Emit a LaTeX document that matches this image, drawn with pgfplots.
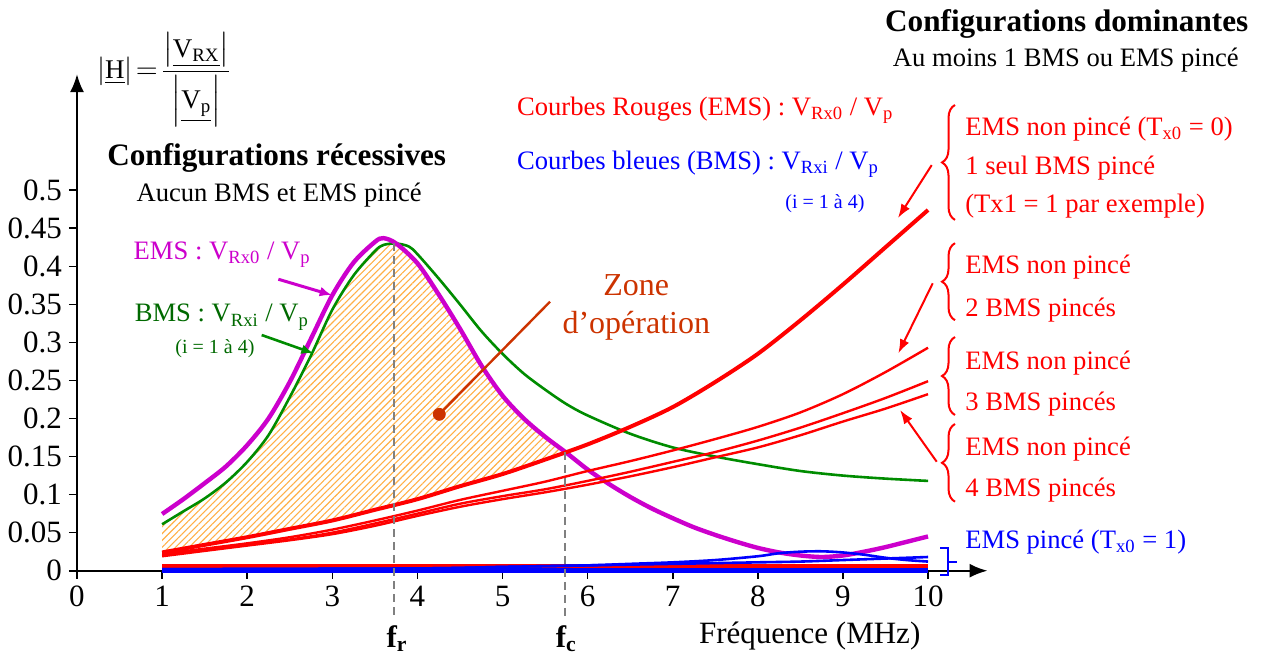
\documentclass[border=0pt]{standalone}
\usepackage{amsmath}
\usepackage{pgfplots}
\pgfplotsset{compat=1.18}
\usepackage{fontspec}
\setmainfont{Liberation Serif}
\usetikzlibrary{arrows.meta,patterns.meta,decorations.pathreplacing}
\definecolor{mag}{RGB}{204,0,204}
\definecolor{grn}{RGB}{0,140,0}
\definecolor{grntxt}{RGB}{0,105,0}
\definecolor{zone}{RGB}{204,51,0}
\definecolor{hatch}{RGB}{255,175,70}
\newcommand\tn{\fontsize{13.3}{16}\selectfont}
\newcommand\tb{\fontsize{15.6}{18}\selectfont\bfseries}
\newcommand\ts{\fontsize{10}{12}\selectfont}
\newcommand\sub[1]{\textsubscript{#1}}
\begin{document}
\begin{tikzpicture}
\begin{axis}[
  scale only axis, width=455.3pt, height=248.35pt,
  xmin=0, xmax=10.7, ymin=0, ymax=0.6527,
  axis lines=left,
  axis line style={line width=1.2pt, -{Latex[length=9pt,width=7pt]}},
  xtick={0,1,2,3,4,5,6,7,8,9,10},
  xticklabels={0,1,2,3,4,5,6,7,8,9,10},
  ytick={0,0.05,0.1,0.15,0.2,0.25,0.3,0.35,0.4,0.45,0.5},
  yticklabels={0,0.05,0.1,0.15,0.2,0.25,0.3,0.35,0.4,0.45,0.5},
  tick align=outside, major tick length=4pt,
  tick style={line width=0.8pt, black},
  tick label style={font=\fontsize{15.5}{18}\selectfont},
  clip=false,
]
% operating zone (hatched)
\addplot[draw=none, pattern={Lines[angle=45,distance=2.4pt,line width=0.55pt]}, pattern color=hatch] coordinates {
(1,0.061) (1.25,0.078) (1.5,0.095) (1.75,0.116) (2,0.142) (2.25,0.177) (2.5,0.227) (2.75,0.283) (3,0.342) (3.25,0.388) (3.5,0.420) (3.6,0.428) (3.72,0.430)
(3.75,0.430) (4,0.404) (4.25,0.363) (4.5,0.318) (4.75,0.270) (5,0.230) (5.25,0.200) (5.5,0.176) (5.74,0.156)
(5.5,0.146) (5,0.127) (4.5,0.111) (4,0.094) (3.5,0.080) (3,0.066) (2.5,0.055) (2,0.044) (1.5,0.034) (1,0.024)} -- cycle;

% green BMS recessive
\addplot[grn, line width=1.3pt, smooth] coordinates {
(1,0.061) (1.25,0.078) (1.5,0.095) (1.75,0.116) (2,0.143) (2.25,0.178) (2.5,0.228) (2.75,0.283) (3,0.343) (3.25,0.388) (3.5,0.420) (3.6,0.428) (3.75,0.430) (3.9,0.426) (4,0.416) (4.25,0.384) (4.5,0.350) (4.75,0.315) (5,0.285) (5.25,0.259) (5.5,0.238) (5.75,0.219) (6,0.204) (6.5,0.180) (7,0.162) (7.5,0.150) (8,0.140) (8.5,0.131) (9,0.125) (9.5,0.121) (10,0.118)};
% magenta EMS recessive
\addplot[mag, line width=2.2pt, smooth] coordinates {
(1,0.0745) (1.25,0.094) (1.5,0.115) (1.75,0.137) (2,0.165) (2.25,0.200) (2.5,0.248) (2.75,0.305) (3,0.362) (3.25,0.405) (3.5,0.432) (3.6,0.437) (3.75,0.430) (4,0.404) (4.25,0.363) (4.5,0.318) (4.75,0.270) (5,0.230) (5.25,0.200) (5.5,0.176) (5.75,0.155) (6,0.133) (6.25,0.114) (6.5,0.097) (6.75,0.082) (7,0.069) (7.25,0.057) (7.5,0.047) (7.75,0.038) (8,0.030) (8.25,0.024) (8.5,0.020) (8.75,0.018) (9,0.020) (9.25,0.025) (9.5,0.031) (9.75,0.038) (10,0.045)};

% red thin: 4, 3, 2 BMS pinces
\addplot[red, line width=1.2pt, smooth] coordinates {
(1,0.019) (1.5,0.026) (2,0.033) (2.5,0.040) (3,0.048) (3.5,0.059) (4,0.072) (4.5,0.084) (5,0.094) (5.5,0.103) (6,0.113) (6.5,0.124) (7,0.136) (7.5,0.149) (8,0.162) (8.5,0.178) (9,0.196) (9.5,0.213) (10,0.232)};
\addplot[red, line width=1.2pt, smooth] coordinates {
(1,0.020) (1.5,0.027) (2,0.034) (2.5,0.041) (3,0.050) (3.5,0.062) (4,0.075) (4.5,0.088) (5,0.098) (5.5,0.107) (6,0.118) (6.5,0.130) (7,0.143) (7.5,0.156) (8,0.171) (8.5,0.188) (9,0.207) (9.5,0.227) (10,0.249)};
\addplot[red, line width=1.2pt, smooth] coordinates {
(1,0.022) (1.5,0.029) (2,0.036) (2.5,0.044) (3,0.054) (3.5,0.066) (4,0.079) (4.5,0.093) (5,0.105) (5.5,0.117) (6,0.131) (6.5,0.144) (7,0.158) (7.5,0.173) (8,0.189) (8.5,0.208) (9,0.232) (9.5,0.261) (10,0.293)};
% red thick: 1 BMS pince
\addplot[red, line width=2pt, smooth] coordinates {
(1,0.024) (1.5,0.034) (2,0.044) (2.5,0.055) (3,0.066) (3.5,0.080) (4,0.094) (4.5,0.111) (5,0.127) (5.5,0.146) (6,0.166) (6.5,0.189) (7,0.215) (7.5,0.248) (8,0.285) (8.5,0.329) (9,0.376) (9.5,0.425) (10,0.474)};

% red flat: EMS pince
\addplot[red, line width=2.2pt] coordinates {(1,0.0058) (4,0.0058) (7,0.0058) (10,0.0058)};
% blue
\addplot[blue, line width=2.2pt] coordinates {(1,0.0005) (4,0.0005) (7,0.0005) (10,0.0005)};
\addplot[blue, line width=1.3pt, smooth] coordinates {
(1,0.002) (4,0.003) (5,0.005) (5.5,0.006) (6,0.007) (6.5,0.009) (7,0.011) (7.5,0.014) (8,0.019) (8.25,0.023) (8.5,0.025) (8.75,0.0255) (9,0.024) (9.25,0.021) (9.5,0.017) (9.75,0.014) (10,0.012)};
\addplot[blue, line width=1.3pt, smooth] coordinates {
(1,0.002) (4,0.003) (5,0.005) (6,0.007) (7,0.009) (7.5,0.010) (8,0.011) (8.5,0.012) (9,0.014) (9.5,0.016) (10,0.018)};

% dashed fr / fc
\draw[gray, line width=1pt, dash pattern=on 4pt off 2.5pt] (axis cs:3.725,0.43) -- (axis cs:3.725,-0.065);
\draw[gray, line width=1pt, dash pattern=on 4pt off 2.5pt] (axis cs:5.735,0.156) -- (axis cs:5.735,-0.065);
\node[anchor=base, inner sep=0, font=\fontsize{15.5}{18}\selectfont\bfseries] at (axis cs:3.76,-0.1005) {f\textsubscript{r}};
\node[anchor=base, inner sep=0, font=\fontsize{15.5}{18}\selectfont\bfseries] at (axis cs:5.75,-0.1005) {f\textsubscript{c}};
\node[anchor=base, inner sep=0, font=\fontsize{15.5}{18}\selectfont] at (axis cs:8.61,-0.095) {Fréquence (MHz)};

% zone pointer
\addplot[zone, line width=1.2pt] coordinates {(4.257,0.2055) (5.558,0.3535)};
\addplot[zone, only marks, mark=*, mark size=3pt] coordinates {(4.257,0.2055)};
\node[anchor=base, inner sep=0, text=zone, font=\fontsize{16}{19}\selectfont] at (axis cs:6.572,0.361) {Zone};
\node[anchor=base, inner sep=0, text=zone, font=\fontsize{16}{19}\selectfont] at (axis cs:6.572,0.312) {d’opération};

% formula
\node[anchor=west, inner sep=0, font=\fontsize{13.5}{16}\selectfont] at (axis cs:0.231,0.645)
 {$\left|\underline{\text{H}}\right|\!=\!\dfrac{\left|\underline{\text{V}_{\text{RX}}}\right|}{\left|\underline{\text{V}_{\text{p}}}\right|}$};

% left titles
\node[anchor=base, inner sep=0, font=\tb] at (axis cs:2.347,0.532) {Configurations récessives};
\node[anchor=base, inner sep=0, font=\tn] at (axis cs:2.376,0.485) {Aucun BMS et EMS pincé};
\node[anchor=base west, inner sep=0, font=\tn, text=mag] at (axis cs:0.662,0.409) {EMS : V\sub{Rx0} / V\sub{p}};
\draw[mag, line width=1.5pt, -{Latex[length=6pt,width=5pt]}] (axis cs:2.366,0.383) -- (axis cs:2.993,0.3622);
\node[anchor=base west, inner sep=0, font=\tn, text=grntxt] at (axis cs:0.674,0.327) {BMS : V\sub{Rxi} / V\sub{p}};
\node[anchor=base west, inner sep=0, font=\ts, text=grntxt] at (axis cs:1.152,0.2848) {(i = 1 à 4)};
\draw[grn, line width=1.3pt, -{Latex[length=6pt,width=5pt]}] (axis cs:2.170,0.3097) -- (axis cs:2.777,0.2857);

% right titles
\node[anchor=base, inner sep=0, font=\tb] at (axis cs:11.63,0.709) {Configurations dominantes};
\node[anchor=base, inner sep=0, font=\tn] at (axis cs:11.62,0.663) {Au moins 1 BMS ou EMS pincé};
\node[anchor=base west, inner sep=0, font=\tn, text=red] at (axis cs:5.167,0.5988) {Courbes Rouges (EMS) : V\sub{Rx0} / V\sub{p}};
\node[anchor=base west, inner sep=0, font=\tn, text=blue] at (axis cs:5.167,0.5275) {Courbes bleues (BMS) : V\sub{Rxi} / V\sub{p}};
\node[anchor=base west, inner sep=0, font=\ts, text=blue] at (axis cs:8.32,0.476) {(i = 1 à 4)};

% braces and texts
\begin{scope}[red, line width=1pt]
\draw[decorate, decoration={brace, amplitude=6.5pt}] (axis cs:10.317,0.461) -- (axis cs:10.317,0.612);
\draw[decorate, decoration={brace, amplitude=6.5pt}] (axis cs:10.317,0.3292) -- (axis cs:10.317,0.4304);
\draw[decorate, decoration={brace, amplitude=6.5pt}] (axis cs:10.317,0.2046) -- (axis cs:10.317,0.3071);
\draw[decorate, decoration={brace, amplitude=6.5pt}] (axis cs:10.317,0.0907) -- (axis cs:10.317,0.1928);
\draw[-{Latex[length=7pt,width=5pt]}] (axis cs:10.043,0.533) -- (axis cs:9.647,0.4635);
\draw[-{Latex[length=7pt,width=5pt]}] (axis cs:10.055,0.3777) -- (axis cs:9.651,0.2857);
\draw[-{Latex[length=7pt,width=5pt]}] (axis cs:10.102,0.1432) -- (axis cs:9.671,0.2112);
\end{scope}
\begin{scope}[every node/.style={anchor=base west, inner sep=0, font=\tn, text=red}]
\node at (axis cs:10.434,0.5725) {EMS non pincé (T\sub{x0} = 0)};
\node at (axis cs:10.434,0.520) {1 seul BMS pincé};
\node at (axis cs:10.434,0.4704) {(Tx1 = 1 par exemple)};
\node at (axis cs:10.434,0.390) {EMS non pincé};
\node at (axis cs:10.434,0.3347) {2 BMS pincés};
\node at (axis cs:10.434,0.2646) {EMS non pincé};
\node at (axis cs:10.434,0.2108) {3 BMS pincés};
\node at (axis cs:10.434,0.152) {EMS non pincé};
\node at (axis cs:10.434,0.0972) {4 BMS pincés};
\node[text=blue] at (axis cs:10.434,0.0294) {EMS pincé (T\sub{x0} = 1)};
\end{scope}
\draw[blue, line width=1pt] (axis cs:10.141,0.0294) -- (axis cs:10.239,0.0294) -- (axis cs:10.239,-0.0057) -- (axis cs:10.141,-0.0057);
\draw[blue, line width=1pt] (axis cs:10.239,0.0118) -- (axis cs:10.341,0.0118);

\coordinate (O) at (axis cs:0,0);
\end{axis}
\pgfresetboundingbox
\path (O) ++(-38.5pt,-42.15pt) rectangle ++(631pt,327.5pt);
\end{tikzpicture}
\end{document}
